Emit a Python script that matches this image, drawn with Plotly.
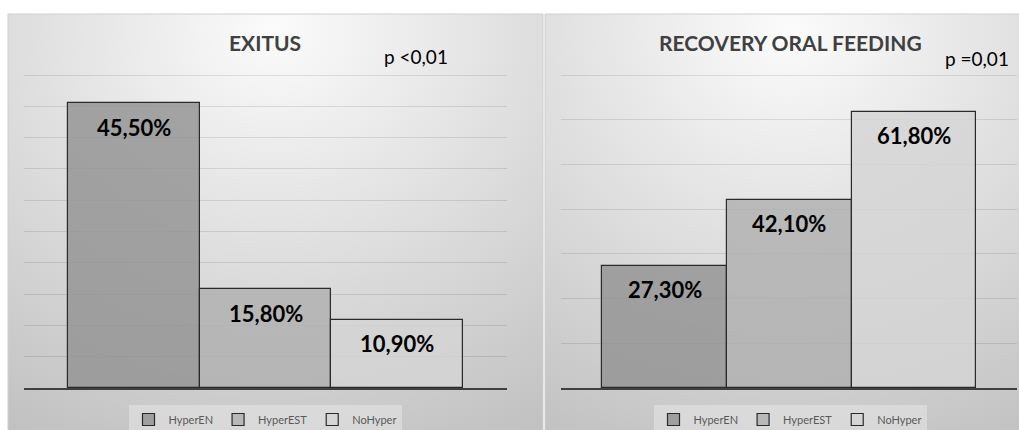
import plotly.graph_objects as go

W, H = 1019, 430

categories = ["HyperEN", "HyperEST", "NoHyper"]
exitus_values = [45.5, 15.8, 10.9]
oral_values = [27.3, 42.1, 61.8]
exitus_labels = ["45,50%", "15,80%", "10,90%"]
oral_labels = ["27,30%", "42,10%", "61,80%"]
titles = ["EXITUS", "RECOVERY ORAL FEEDING"]
pvalues = ["p <0,01", "p =0,01"]

bar_colors = ["rgba(146,146,146,0.82)", "rgba(176,176,176,0.82)", "rgba(212,212,212,0.82)"]
FONT = "Lato, 'Open Sans', sans-serif"

def px_x(p):
    return p / W

def px_y(p):
    return 1 - p / H

fig = go.Figure()

# ---- background gradient panels (subplots xy and x2y2, drawn first) ----
panels = [
    dict(x0=8, x1=543, cx=275),
    dict(x0=545, x1=1019, cx=790),
]
for i, pn in enumerate(panels):
    ax = "" if i == 0 else "2"
    pw = pn["x1"] - pn["x0"]
    ph = H - 14
    cxu = (pn["cx"] - pn["x0"]) / pw
    cyu = 1 - 16 / ph
    rx = 530 / pw
    ry = 470 / ph
    fig.add_trace(go.Scatter(
        x=[cxu - rx, cxu + rx, cxu + rx, cxu - rx, cxu - rx],
        y=[cyu - ry, cyu - ry, cyu + ry, cyu + ry, cyu - ry],
        fill="toself", mode="lines", line=dict(width=0),
        fillgradient=dict(type="radial", colorscale=[[0, "rgb(251,251,251)"], [1, "rgb(192,192,192)"]]),
        hoverinfo="skip", showlegend=False,
        xaxis="x" + ax, yaxis="y" + ax,
    ))
    fig.layout["xaxis" + ax] = dict(domain=[px_x(pn["x0"]), px_x(pn["x1"])], range=[0, 1],
                                   visible=False, fixedrange=True, anchor="y" + ax)
    fig.layout["yaxis" + ax] = dict(domain=[0, px_y(14)], range=[0, 1],
                                   visible=False, fixedrange=True, anchor="x" + ax)

# ---- bar subplots ----
BASE_PX, TOP_PX = 388, 75
datasets = [
    dict(vals=exitus_values, labels=exitus_labels, ax="3", ymax=50, dtick=5,
         dom=[px_x(24), px_x(507)], legend="legend"),
    dict(vals=oral_values, labels=oral_labels, ax="4", ymax=70, dtick=10,
         dom=[px_x(561), px_x(1017.4)], legend="legend2"),
]
annotations = []
for ds in datasets:
    ax = ds["ax"]
    for cat, val, lab, col in zip(categories, ds["vals"], ds["labels"], bar_colors):
        fig.add_trace(go.Bar(
            x=[cat], y=[val], name=cat,
            marker=dict(color=col, line=dict(color="#2a2a2a", width=1.2)),
            xaxis="x" + ax, yaxis="y" + ax, legend=ds["legend"],
            hoverinfo="skip",
        ))
        annotations.append(dict(
            x=cat, y=val, xref="x" + ax, yref="y" + ax, text=lab, showarrow=False,
            yshift=-24, font=dict(family=FONT, size=22, color="#000000", weight="bold"),
        ))
    # extend the range slightly so the top gridline is kept, preserving the scale
    pxper = (BASE_PX - TOP_PX) / ds["ymax"]
    ext = 2.0 / pxper
    ytop = ds["ymax"] + ext
    top_px = BASE_PX - ytop * pxper
    fig.layout["xaxis" + ax] = dict(domain=ds["dom"], type="category", range=[-0.83, 2.83],
                                   anchor="y" + ax,
                                   showticklabels=False, ticks="", showgrid=False,
                                   showline=True, linecolor="#404040", linewidth=2,
                                   zeroline=False, fixedrange=True)
    fig.layout["yaxis" + ax] = dict(domain=[px_y(BASE_PX), px_y(top_px)], range=[0, ytop],
                                   anchor="x" + ax,
                                   dtick=ds["dtick"], showticklabels=False, ticks="",
                                   showgrid=True, gridcolor="rgba(0,0,0,0.10)", gridwidth=1,
                                   zeroline=False, showline=False, fixedrange=True)

# titles and p-values
for title, cx in zip(titles, [265, 790]):
    annotations.append(dict(x=px_x(cx), y=px_y(43), xref="paper", yref="paper", text=title,
                            showarrow=False, xanchor="center", yanchor="middle",
                            font=dict(family=FONT, size=21, color="#404040", weight="bold")))
for pv, cx, cy in zip(pvalues, [415.5, 976.5], [57, 59]):
    annotations.append(dict(x=px_x(cx), y=px_y(cy), xref="paper", yref="paper", text=pv,
                            showarrow=False, xanchor="center", yanchor="middle",
                            font=dict(family=FONT, size=19, color="#000000")))

shapes = [
    dict(type="rect", xref="paper", yref="paper", x0=px_x(8), x1=px_x(543), y0=-0.02, y1=px_y(14),
         line=dict(color="#cfcfcf", width=1), fillcolor="rgba(0,0,0,0)", layer="above"),
    dict(type="rect", xref="paper", yref="paper", x0=px_x(545), x1=1.02, y0=-0.02, y1=px_y(14),
         line=dict(color="#cfcfcf", width=1), fillcolor="rgba(0,0,0,0)", layer="above"),
]

legend_style = dict(orientation="h", xanchor="center", yanchor="top", y=px_y(405),
                    bgcolor="rgba(255,255,255,0.3)", borderwidth=0,
                    font=dict(family=FONT, size=11, color="#595959"),
                    itemclick=False, itemdoubleclick=False, tracegroupgap=0)

fig.update_layout(
    width=W, height=H, margin=dict(l=0, r=0, t=0, b=0, autoexpand=False),
    paper_bgcolor="#ffffff", plot_bgcolor="rgba(0,0,0,0)",
    barmode="overlay", bargap=0,
    annotations=annotations, shapes=shapes,
    legend=dict(x=px_x(265), **legend_style),
    legend2=dict(x=px_x(790), **legend_style),
    showlegend=True,
)

fig.write_html("out.html", config=dict(displayModeBar=False))
